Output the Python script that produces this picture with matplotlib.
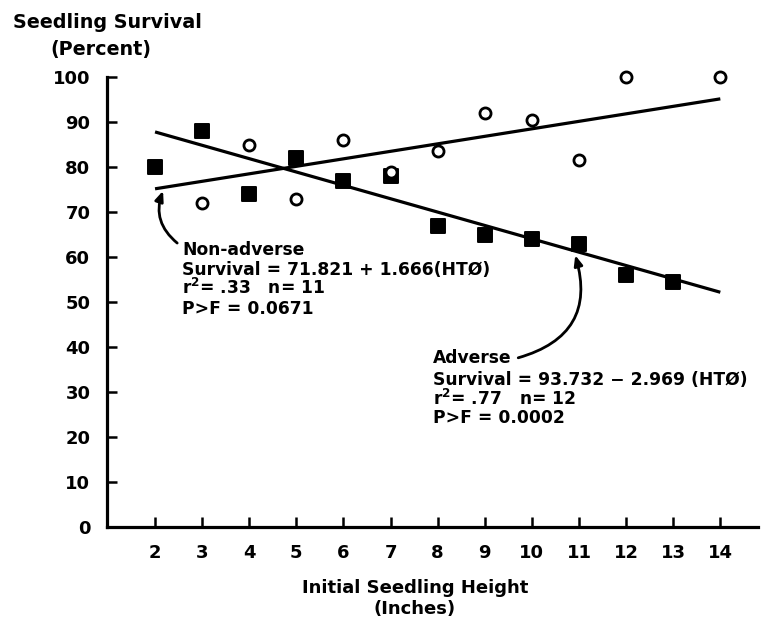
import matplotlib
matplotlib.use('Agg')
import matplotlib.pyplot as plt
from matplotlib.markers import MarkerStyle

# seedling survival vs initial height
adverse_x = [2, 3, 4, 5, 6, 7, 8, 9, 10, 11, 12, 13]
adverse_y = [80, 88, 74, 82, 77, 78, 67, 65, 64, 63, 56, 54.5]
nonadv_x = [3, 4, 5, 6, 7, 8, 9, 10, 11, 12, 14]
nonadv_y = [72, 85, 73, 86, 79, 83.5, 92, 90.5, 81.5, 100, 100]

# regression equations printed on the chart
adverse_fit = (93.732, -2.969)
nonadv_fit = (71.821, 1.666)
fit_x = [2, 14]

x_ticks = list(range(2, 15))
y_ticks = list(range(0, 101, 10))

plt.rcParams['font.family'] = ['DejaVu Sans']
plt.rcParams['font.weight'] = 'bold'
plt.rcParams['mathtext.fontset'] = 'dejavusans'

fig = plt.figure(figsize=(7.75, 6.24), dpi=100)
ax = fig.add_axes([107 / 775, 97 / 624, 651 / 775, 450 / 624])

ax.plot(fit_x, [adverse_fit[0] + adverse_fit[1] * x for x in fit_x], color='black', lw=2.3, solid_capstyle='butt')
ax.plot(fit_x, [nonadv_fit[0] + nonadv_fit[1] * x for x in fit_x], color='black', lw=2.3, solid_capstyle='butt')

sq = MarkerStyle('s', joinstyle='round')
ax.plot(adverse_x, adverse_y, linestyle='none', marker=sq, ms=9.5, mfc='black', mec='black', mew=1.4,
        clip_on=False, zorder=3)
ax.plot(nonadv_x, nonadv_y, linestyle='none', marker='o', ms=8, mfc='white', mec='black', mew=2,
        clip_on=False, zorder=4)

ax.set_xlim(0.98, 14.8)
ax.set_ylim(0, 100)
ax.set_xticks(x_ticks)
ax.set_yticks(y_ticks)
for s in ['top', 'right']:
    ax.spines[s].set_visible(False)
for s in ['left', 'bottom']:
    ax.spines[s].set_linewidth(2.3)
ax.tick_params(direction='in', length=7, width=1.8, labelsize=13, pad=12)

# annotations
tf = dict(fontsize=12.3, fontweight='bold', va='center', ha='left')
ax.text(2.57, 61.6, 'Non-adverse', **tf)
ax.text(2.57, 57.1, 'Survival = 71.821 + 1.666(HTØ)', **tf)
ax.text(2.57, 53.1, r'r$^\mathbf{2}$= .33   n= 11', **tf)
ax.text(2.57, 48.4, 'P>F = 0.0671', **tf)

ax.text(7.90, 37.6, 'Adverse', **tf)
ax.text(7.90, 32.7, 'Survival = 93.732 \u2212 2.969 (HTØ)', **tf)
ax.text(7.90, 28.4, r'r$^\mathbf{2}$= .77   n= 12', **tf)
ax.text(7.90, 24.2, 'P>F = 0.0002', **tf)

ap = dict(arrowstyle='-|>,head_length=0.6,head_width=0.25', color='black', lw=2, shrinkA=0, shrinkB=0)
ax.annotate('', xy=(2.17, 74.7), xytext=(2.47, 63.1),
            arrowprops=dict(connectionstyle='arc3,rad=-0.35', **ap))
ax.annotate('', xy=(10.92, 60.4), xytext=(9.71, 37.6),
            arrowprops=dict(connectionstyle='arc3,rad=0.5', **ap))

fig.text(13 / 775, 1 - 22 / 624, 'Seedling Survival', fontsize=13.8, fontweight='bold', va='center', ha='left')
fig.text(50 / 775, 1 - 49 / 624, '(Percent)', fontsize=13.8, fontweight='bold', va='center', ha='left')
fig.text(415 / 775, 1 - 588 / 624, 'Initial Seedling Height', fontsize=13, fontweight='bold', va='center', ha='center')
fig.text(415 / 775, 1 - 609 / 624, '(Inches)', fontsize=13, fontweight='bold', va='center', ha='center')

fig.savefig('out.png', dpi=100)
